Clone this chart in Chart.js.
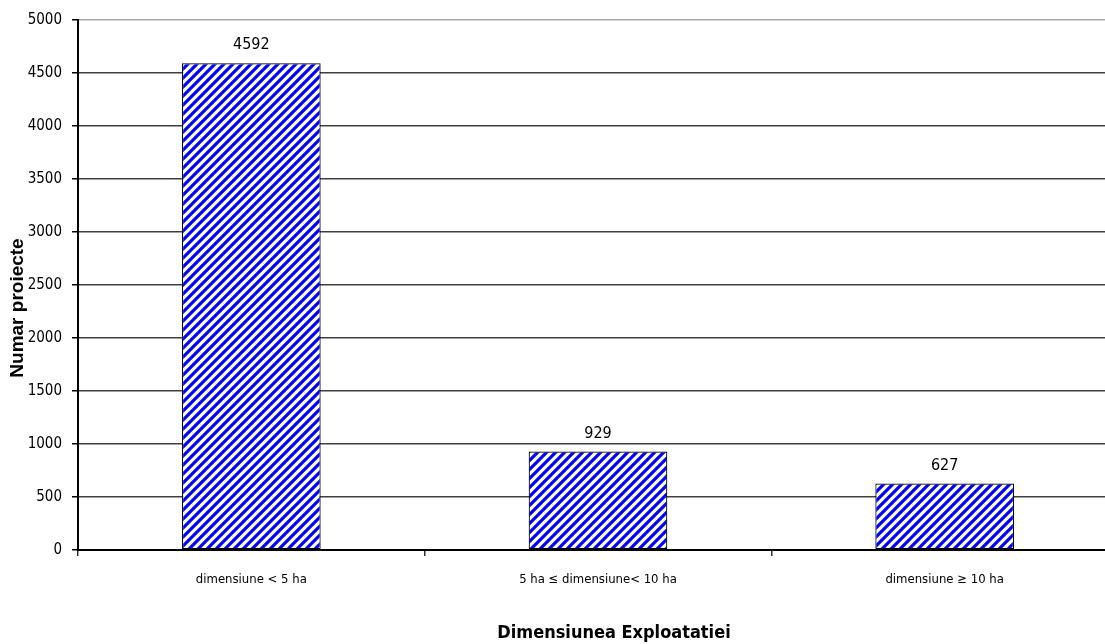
<!DOCTYPE html>
<html>
<head>
<meta charset="utf-8">
<script src="https://cdn.jsdelivr.net/npm/chart.js@4.4.0/dist/chart.umd.min.js"></script>
<style>
html,body{margin:0;padding:0;background:#fff;overflow:hidden;}
#wrap{position:relative;width:1118px;height:644px;}
</style>
</head>
<body>
<div id="wrap"><canvas id="c"></canvas></div>
<script>
const categories = ["dimensiune < 5 ha", "5 ha \u2264 dimensiune< 10 ha", "dimensiune \u2265 10 ha"];
const projectCounts = [4592, 929, 627];
const yTickMax = 5000;
const yTickStep = 500;
const yTitle = "Numar proiecte";
const xTitle = "Dimensiunea Exploatatiei";

const NARROW = "'Liberation Sans Narrow','Arial Narrow','DejaVu Sans Condensed',sans-serif";

function makeHatch() {
  const s = 9;
  const p = document.createElement('canvas');
  p.width = s; p.height = s;
  const g = p.getContext('2d');
  g.fillStyle = '#ffffff';
  g.fillRect(0, 0, s, s);
  g.strokeStyle = '#0000ff';
  g.lineWidth = 3.2;
  g.beginPath();
  g.moveTo(-2, s + 2); g.lineTo(s + 2, -2);
  g.moveTo(-2, 2); g.lineTo(2, -2);
  g.moveTo(s - 2, s + 2); g.lineTo(s + 2, s - 2);
  g.stroke();
  return document.getElementById('c').getContext('2d').createPattern(p, 'repeat');
}

const valueLabels = {
  id: 'valueLabels',
  afterDatasetsDraw(chart) {
    const ctx = chart.ctx;
    const meta = chart.getDatasetMeta(0);
    ctx.save();
    ctx.font = "16px " + NARROW;
    ctx.fillStyle = '#000';
    ctx.textAlign = 'center';
    ctx.textBaseline = 'bottom';
    meta.data.forEach((bar, i) => {
      ctx.fillText(String(chart.data.datasets[0].data[i]), bar.x, bar.y - 10);
    });
    ctx.restore();
  }
};

const titles = {
  id: 'titles',
  afterDraw(chart) {
    const ctx = chart.ctx;
    ctx.save();
    ctx.fillStyle = '#000';
    ctx.textAlign = 'center';
    ctx.textBaseline = 'middle';
    ctx.font = "bold 19px 'Liberation Sans',Arial,sans-serif";
    ctx.translate(18, 308);
    ctx.rotate(-Math.PI / 2);
    ctx.fillText(yTitle, 0, 0);
    ctx.restore();
    ctx.save();
    ctx.fillStyle = '#000';
    ctx.textAlign = 'center';
    ctx.textBaseline = 'middle';
    ctx.font = "bold 18px " + NARROW;
    ctx.fillText(xTitle, 614, 633);
    ctx.restore();
  }
};

const chart = new Chart(document.getElementById('c'), {
  type: 'bar',
  data: {
    labels: categories,
    datasets: [{
      data: projectCounts,
      backgroundColor: makeHatch(),
      borderColor: '#000',
      borderWidth: 1.2,
      borderSkipped: false,
      categoryPercentage: 1.0,
      barPercentage: 0.4
    }]
  },
  options: {
    responsive: true,
    maintainAspectRatio: false,
    animation: false,
    devicePixelRatio: 1,
    layout: { padding: { top: 20, right: 0, left: 0, bottom: 0 } },
    plugins: { legend: { display: false }, tooltip: { enabled: false } },
    scales: {
      y: {
        min: 0, max: yTickMax,
        ticks: {
          stepSize: yTickStep, padding: 10, color: '#000',
          font: { size: 15, family: NARROW },
          callback: (v) => String(v)
        },
        grid: {
          color: (c) => c.tick && c.tick.value === yTickMax ? '#a8a8a8' : '#404040',
          lineWidth: 1.5,
          tickLength: 6,
          tickColor: '#000'
        },
        border: { color: '#000', width: 2 },
        afterFit(s) { s.width = 78; }
      },
      x: {
        ticks: { padding: 16, color: '#000', font: { size: 13, family: NARROW } },
        grid: { drawOnChartArea: false, offset: true, tickLength: 6, tickColor: '#333', lineWidth: 1.5 },
        border: { color: '#000', width: 2 },
        afterFit(s) { s.height = 94; }
      }
    }
  },
  plugins: [valueLabels, titles]
});
</script>
</body>
</html>
